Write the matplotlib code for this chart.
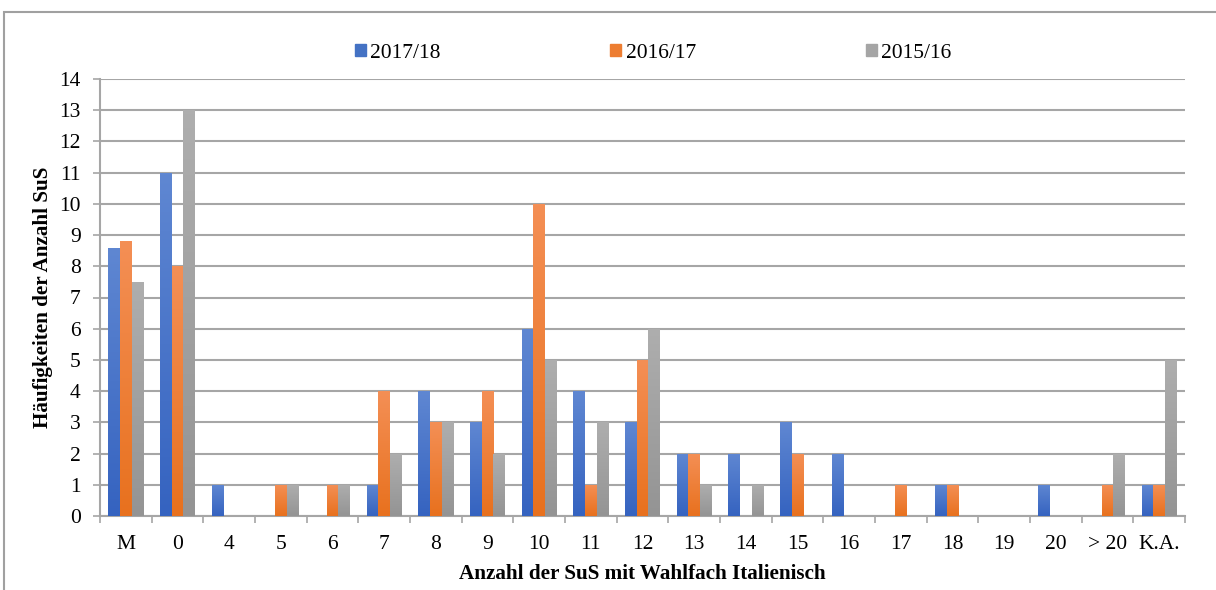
import matplotlib
matplotlib.use('Agg')
import matplotlib.pyplot as plt
import numpy as np
from matplotlib.patches import Rectangle
from matplotlib.colors import LinearSegmentedColormap

plt.rcParams['font.family'] = ['Liberation Serif', 'DejaVu Serif']

categories = ['M', '0', '4', '5', '6', '7', '8', '9', '10', '11', '12', '13', '14',
              '15', '16', '17', '18', '19', '20', '> 20', 'K.A.']
s2017 = [8.6, 11, 1, 0, 0, 1, 4, 3, 6, 4, 3, 2, 2, 3, 2, 0, 1, 0, 1, 0, 1]
s2016 = [8.8, 8, 0, 1, 1, 4, 3, 4, 10, 1, 5, 2, 0, 2, 0, 1, 1, 0, 0, 1, 1]
s2015 = [7.5, 13, 0, 1, 1, 2, 3, 2, 5, 3, 6, 1, 1, 0, 0, 0, 0, 0, 0, 2, 5]
series = ['2017/18', '2016/17', '2015/16']

# (light top, dark bottom, legend colour)
colors = [('#5F87D2', '#3563C0', '#4472C4'),
          ('#F48F55', '#E8711E', '#ED7D31'),
          ('#AEAEAE', '#949494', '#A5A5A5')]

fig = plt.figure(figsize=(12.16, 5.9), dpi=100)
ax = fig.add_axes([100/1216, 1-516/590, 1085/1216, 437/590])

x = np.arange(len(categories))
w = 0.227
grad = np.linspace(0, 1, 100).reshape(-1, 1)
handles = []
for k, (vals, name) in enumerate(zip([s2017, s2016, s2015], series)):
    top, bot, leg = colors[k]
    cmap = LinearSegmentedColormap.from_list('g%d' % k, [top, bot])
    bars = ax.bar(x + (k - 1) * w, vals, w, color=leg, zorder=3, label=name)
    for b in bars:
        h = b.get_height()
        if h <= 0:
            b.set_visible(False)
            continue
        x0 = b.get_x()
        im = ax.imshow(grad, cmap=cmap, aspect='auto', zorder=3.5,
                       extent=[x0, x0 + w, 0, h], interpolation='bilinear')
        im.set_clip_path(b)
    handles.append(Rectangle((0, 0), 1, 1, color=leg))

ax.set_xlim(-0.5, len(categories) - 0.5)
ax.set_ylim(0, 14)
ax.set_yticks(range(0, 15))
ax.yaxis.grid(True, color='#A6A6A6', lw=1.5, zorder=0)
ax.set_axisbelow(True)

ax.set_xticks(np.arange(-0.5, len(categories), 1))
ax.set_xticklabels([])
ax.set_xticks(x, minor=True)
ax.set_xticklabels(categories, minor=True)
ax.tick_params(axis='x', which='major', length=5, color='#A6A6A6', width=1.2)
ax.tick_params(axis='x', which='minor', length=0, pad=14, labelsize=15.5)
ax.tick_params(axis='y', length=5, color='#A6A6A6', width=1.2, labelsize=15.5, pad=9)

for s in ['top', 'right']:
    ax.spines[s].set_visible(False)
for s in ['left', 'bottom']:
    ax.spines[s].set_color('#A6A6A6')
    ax.spines[s].set_linewidth(1.5)

ax.set_xlabel('Anzahl der SuS mit Wahlfach Italienisch', fontsize=15.2,
              fontweight='bold', labelpad=7)
ax.set_ylabel('Häufigkeiten der Anzahl SuS', fontsize=15.2, fontweight='bold',
              labelpad=4)

fig.legend(handles, series, loc='center', bbox_to_anchor=(653/1216, 1-53/590),
           ncol=3, frameon=False, fontsize=15.5, handlelength=0.5, handleheight=0.5,
           handletextpad=0.2, columnspacing=7.9, borderaxespad=0, borderpad=0)

fig.patches.append(Rectangle((4/1216, -0.1), 1.2, 1.1 - 12/590,
                             transform=fig.transFigure, fill=False,
                             edgecolor='#A0A0A0', lw=1.5))

fig.savefig('out.png', dpi=100)
